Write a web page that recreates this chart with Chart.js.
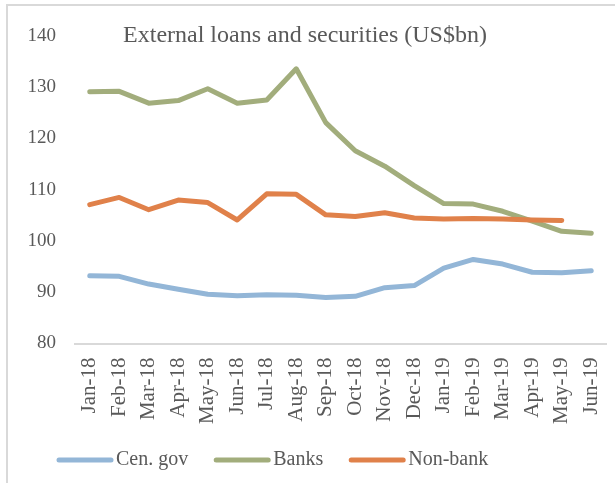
<!DOCTYPE html>
<html>
<head>
<meta charset="utf-8">
<script src="https://cdn.jsdelivr.net/npm/chart.js@4/dist/chart.umd.min.js"></script>
<style>
  body { margin: 0; background: #fff; }
  .wrap { position: relative; width: 615px; height: 483px; overflow: hidden; }
  .frame { position: absolute; left: 6px; top: 4px; width: 640px; height: 500px; border: 2px solid #d9d9d9; }
  canvas { position: absolute; left: 0; top: 0; }
</style>
</head>
<body>
<div class="wrap">
  <div class="frame"></div>
  <canvas id="myChart" width="615" height="483"></canvas>
</div>
<script>
// months on the x axis
var months = ["Jan-18", "Feb-18", "Mar-18", "Apr-18", "May-18", "Jun-18", "Jul-18", "Aug-18", "Sep-18",
              "Oct-18", "Nov-18", "Dec-18", "Jan-19", "Feb-19", "Mar-19", "Apr-19", "May-19", "Jun-19"];
var cenGov = [93.2, 93.1, 91.6, 90.6, 89.6, 89.3, 89.5, 89.4, 89.0, 89.2, 90.9, 91.3, 94.7, 96.4, 95.5, 93.9, 93.8, 94.2];
var banks = [129.1, 129.2, 126.9, 127.4, 129.7, 126.9, 127.5, 133.6, 123.1, 117.6, 114.6, 110.8, 107.3, 107.2, 105.8, 103.9, 101.9, 101.5];
var nonBank = [107.1, 108.5, 106.1, 108.0, 107.5, 104.1, 109.2, 109.1, 105.1, 104.8, 105.5, 104.5, 104.3, 104.4, 104.3, 104.1, 104.0, null];
var yTicks = [80, 90, 100, 110, 120, 130, 140];

var grey = "#595959";
var serif = "'Liberation Serif', 'DejaVu Serif', serif";

// title sits inside the plot, level with the top tick
var titlePlugin = {
    id: "insideTitle",
    afterDraw: function (chart) {
        var ctx = chart.ctx;
        ctx.save();
        ctx.fillStyle = grey;
        ctx.font = "24px " + serif;
        ctx.textAlign = "center";
        ctx.textBaseline = "middle";
        ctx.fillText("External loans and securities (US$bn)", 305, chart.chartArea.top);
        ctx.restore();
    }
};

// legend like Excel's: line sample then text right next to it
var legendPlugin = {
    id: "lineLegend",
    afterDraw: function (chart) {
        var ctx = chart.ctx;
        var x = 57, y = 460;
        ctx.save();
        ctx.font = "20px " + serif;
        ctx.textBaseline = "middle";
        chart.data.datasets.forEach(function (ds) {
            ctx.strokeStyle = ds.borderColor;
            ctx.lineWidth = 5;
            ctx.lineCap = "round";
            ctx.beginPath();
            ctx.moveTo(x + 2, y);
            ctx.lineTo(x + 54, y);
            ctx.stroke();
            ctx.fillStyle = grey;
            ctx.fillText(ds.label, x + 59, y);
            x += 59 + ctx.measureText(ds.label).width + 26;
        });
        ctx.restore();
    }
};

var lineStyle = { borderWidth: 5, pointRadius: 0, tension: 0, borderCapStyle: "round", borderJoinStyle: "round", fill: false };

new Chart("myChart", {
    type: "line",
    data: {
        labels: months,
        datasets: [
            Object.assign({ label: "Cen. gov", data: cenGov, borderColor: "#93b6d7", order: 3 }, lineStyle),
            Object.assign({ label: "Banks", data: banks, borderColor: "#a2ad7c", order: 2 }, lineStyle),
            Object.assign({ label: "Non-bank", data: nonBank, borderColor: "#e0814a", order: 1 }, lineStyle)
        ]
    },
    options: {
        responsive: false,
        animation: false,
        layout: { padding: { left: 0, right: 9, top: 36, bottom: 45 } },
        plugins: {
            title: { display: false },
            tooltip: { enabled: false },
            legend: { display: false }
        },
        scales: {
            x: {
                offset: true,
                afterFit: function (scale) { scale.paddingLeft = 0; scale.paddingRight = 0; },
                grid: { display: false, drawTicks: false },
                border: { color: "#d9d9d9", width: 2 },
                ticks: { color: grey, font: { family: serif, size: 21 }, minRotation: 90, maxRotation: 90, padding: 14, autoSkip: false }
            },
            y: {
                min: yTicks[0],
                max: yTicks[yTicks.length - 1],
                afterBuildTicks: function (scale) { scale.ticks = yTicks.map(function (v) { return { value: v }; }); },
                afterFit: function (scale) { scale.width = 75; },
                grid: { display: false, drawTicks: false },
                border: { display: false },
                ticks: { color: grey, font: { family: serif, size: 19 }, padding: 19 }
            }
        }
    },
    plugins: [titlePlugin, legendPlugin]
});
</script>
</body>
</html>
